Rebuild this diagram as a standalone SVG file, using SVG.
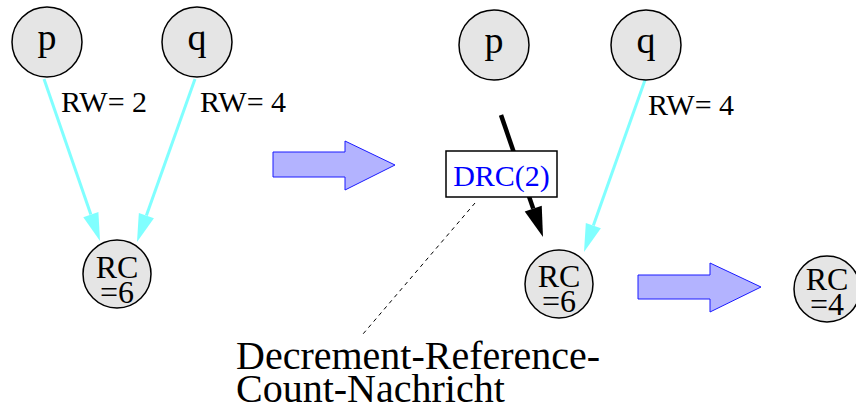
<svg xmlns="http://www.w3.org/2000/svg" width="856" height="410" viewBox="0 0 856 410">
<style>
.node{fill:#e5e5e5;stroke:#000;stroke-width:1.5}
.t{font-family:"Liberation Serif","Times New Roman",serif;fill:#000}
.big{font-size:38px;text-anchor:middle}
.rc{font-size:32px;text-anchor:middle}
.lbl{font-size:30px}
.cy{stroke:#80ffff;stroke-width:3;fill:none}
.cyh{fill:#80ffff;stroke:none}
.blk{fill:#b3b3ff;stroke:#1a1aff;stroke-width:1}
</style>
<rect width="856" height="410" fill="#fff"/>
<g id="connectors">
<line class="cy" x1="44" y1="79" x2="90.85" y2="214.54"/>
<polygon class="cyh" points="100,241 83.29,217.15 98.41,211.93"/>
<line class="cy" x1="195" y1="79" x2="146.39" y2="215.62"/>
<polygon class="cyh" points="137,242 138.85,212.94 153.93,218.30"/>
<line class="cy" x1="645" y1="80" x2="593.36" y2="225.61"/>
<polygon class="cyh" points="584,252 585.82,222.94 600.90,228.28"/>
<line x1="501" y1="115" x2="533.23" y2="208.63" stroke="#000" stroke-width="4.5"/>
<polygon points="543,237 524.72,211.56 541.74,205.70" fill="#000"/>
<line x1="475" y1="203" x2="363" y2="334" stroke="#000" stroke-width="1" stroke-dasharray="4 4"/>
</g>
<g id="arrow1"><polygon class="blk" points="273,152 345,152 345,141 395,165 345,190 345,177 273,177"/></g>
<g id="arrow2"><polygon class="blk" points="638,275 710,275 710,263 761,287 710,312 710,299 638,299"/></g>
<g id="p1"><circle class="node" cx="47" cy="42" r="35"/><text class="t big" x="47" y="50">p</text></g>
<g id="q1"><circle class="node" cx="197" cy="42" r="35"/><text class="t big" x="197" y="50">q</text></g>
<g id="rc1"><circle class="node" cx="117" cy="274" r="34"/><text class="t rc" x="117" y="278">RC</text><text class="t rc" x="117" y="303">=6</text></g>
<g id="p2"><circle class="node" cx="494" cy="45" r="35"/><text class="t big" x="494" y="53">p</text></g>
<g id="q2"><circle class="node" cx="646" cy="45" r="35"/><text class="t big" x="646" y="53">q</text></g>
<g id="rc2"><circle class="node" cx="559" cy="284" r="34"/><text class="t rc" x="559" y="287">RC</text><text class="t rc" x="559" y="312">=6</text></g>
<g id="rc3"><circle class="node" cx="827" cy="289" r="33"/><text class="t rc" x="827" y="290">RC</text><text class="t rc" x="827" y="315">=4</text></g>
<g id="drc"><rect x="446" y="151" width="111" height="46" fill="#fff" stroke="#000" stroke-width="1.5"/><text class="t" x="501.5" y="186" font-size="30" text-anchor="middle" style="fill:#0000ff">DRC(2)</text></g>
<g id="labels">
<text class="t lbl" x="61" y="112">RW= 2</text>
<text class="t lbl" x="200" y="112">RW= 4</text>
<text class="t lbl" x="648" y="115">RW= 4</text>
<text class="t" x="236" y="369" font-size="40">Decrement-Reference-</text>
<text class="t" x="236" y="402" font-size="40">Count-Nachricht</text>
</g>
</svg>
